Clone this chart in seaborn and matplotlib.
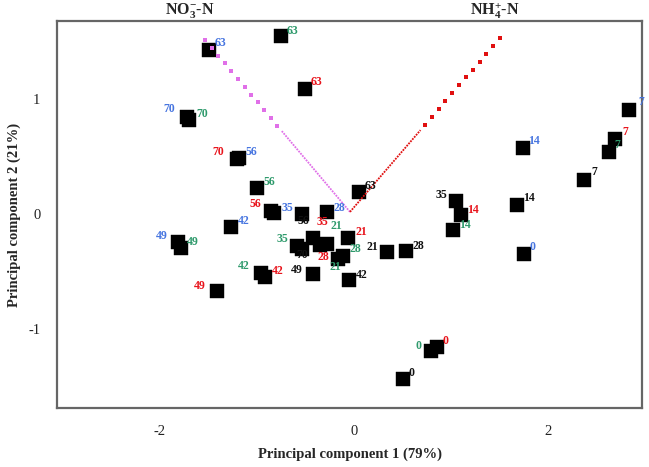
import numpy as np
import pandas as pd
import matplotlib
matplotlib.use("Agg")
import matplotlib.pyplot as plt
import seaborn as sns

# ---------------- data ----------------
black_days = ["0", "7", "14", "21", "28", "35", "42", "49", "56", "63", "70"]
black_x = [0.506, 2.369, 1.679, 0.342, 0.537, 1.051, -0.049, -0.420, -0.533, 0.053, -0.533]
black_y = [-1.436, 0.295, 0.077, -0.331, -0.323, 0.112, -0.575, -0.523, -0.001, 0.190, -0.305]

red_days = ["0", "7", "14", "21", "28", "35", "42", "49", "56", "63", "70"]
red_x = [0.856, 2.687, 1.103, -0.060, -0.348, -0.420, -0.914, -1.407, -0.852, -0.502, -1.202]
red_y = [-1.157, 0.651, -0.010, -0.210, -0.270, -0.210, -0.549, -0.670, 0.025, 1.086, 0.478]

green_days = ["0", "7", "14", "21", "21", "28", "35", "42", "49", "56", "63", "70"]
green_x = [0.795, 2.626, 1.020, -0.276, -0.163, -0.111, -0.584, -0.955, -1.778, -0.996, -0.749, -1.695]
green_y = [-1.192, 0.538, -0.140, -0.262, -0.391, -0.366, -0.279, -0.514, -0.297, 0.225, 1.547, 0.817]

blue_days = ["0", "7", "14", "28", "35", "42", "49", "56", "63", "70"]
blue_x = [1.751, 2.831, 1.741, -0.276, -0.821, -1.263, -1.808, -1.181, -1.490, -1.714]
blue_y = [-0.349, 0.903, 0.573, 0.017, 0.008, -0.114, -0.244, 0.486, 1.425, 0.843]

# loading vectors (origin and tip)
loading_names = ["NO3-N", "NH4-N"]
loading_x0 = [-0.039, -0.039]
loading_y0 = [0.017, 0.017]
loading_x1 = [-1.531, 1.504]
loading_y1 = [1.512, 1.530]

x_ticks = [-2, 0, 2]
y_ticks = [-1, 0, 1]
x_label = "Principal component 1 (79%)"
y_label = "Principal component 2 (21%)"

# ---------------- styling ----------------
# label offsets (pixels, dx right, dy up) from the square centre
black_off = [(9, 6), (10, 8), (12, 7), (-15, 5), (12, 5), (-15, 6), (13, 5), (-16, 4), (1, -7), (12, 6), (0, -6)]
red_off = [(9, 6), (10, 7), (12, 5), (13, 6), (3, -12), (9, 16), (13, 6), (-17, 5), (-16, 7), (12, 7), (-19, 7)]
green_off = [(-13, 5), (8, 7), (12, 5), (9, 18), (-3, -8), (12, 7), (-15, 7), (-17, 7), (12, 6), (12, 6), (12, 5), (13, 6)]
blue_off = [(9, 7), (12, 8), (11, 7), (12, 4), (13, 5), (13, 6), (-16, 6), (12, 6), (12, 7), (-18, 8)]

col_black = "#111111"
col_red = "#e8141c"
col_green = "#2f9a6c"
col_blue = "#4775e0"
load_cols = ["#e070e8", "#e01010"]

sns.set_style("white")
plt.rcParams["font.family"] = ["Liberation Serif", "DejaVu Serif"]
plt.rcParams["mathtext.fontset"] = "custom"
plt.rcParams["mathtext.rm"] = "Liberation Serif"
plt.rcParams["mathtext.bf"] = "Liberation Serif:bold"
plt.rcParams["mathtext.it"] = "Liberation Serif:italic"

fig = plt.figure(figsize=(6.49, 4.67), dpi=100)
ax = fig.add_axes([57 / 649, 1 - 408 / 467, 585 / 649, 387 / 467])

series = [
    (black_days, black_x, black_y, black_off, col_black),
    (red_days, red_x, red_y, red_off, col_red),
    (green_days, green_x, green_y, green_off, col_green),
    (blue_days, blue_x, blue_y, blue_off, col_blue),
]

frames = []
for days, xs, ys, offs, col in series:
    frames.append(pd.DataFrame({"x": xs, "y": ys, "day": days, "col": col}))
df = pd.concat(frames, ignore_index=True)

sns.scatterplot(data=df, x="x", y="y", marker="s", s=95, color="black",
                edgecolor="black", linewidth=0.3, ax=ax, zorder=3, legend=False)

# point labels
px2pt = 0.72
for days, xs, ys, offs, col in series:
    for d, x, y, (dx, dy) in zip(days, xs, ys, offs):
        ax.annotate(d, (x, y), xytext=(dx * px2pt, dy * px2pt), textcoords="offset points",
                    ha="center", va="center", fontsize=8.5, fontweight="bold",
                    color=col, zorder=5)

# loading vectors: thin dotted inner half, spaced square dots outer half
for x0, y0, x1, y1, c in zip(loading_x0, loading_y0, loading_x1, loading_y1, load_cols):
    t_in = np.linspace(0, 0.47, 2)
    ax.plot(x0 + (x1 - x0) * t_in, y0 + (y1 - y0) * t_in, color=c, lw=1.3,
            ls=(0, (1, 0.6)), zorder=4)
    t_out = np.linspace(0.5, 1.0, 12)
    ax.plot(x0 + (x1 - x0) * t_out, y0 + (y1 - y0) * t_out, color=c, ls="none",
            marker="s", markersize=3.2, markeredgewidth=0, zorder=4)

ax.set_xlim(-3.053, 2.965)
ax.set_ylim(-1.688, 1.677)
ax.set_xticks(x_ticks)
ax.set_yticks(y_ticks)
ax.set_xticklabels([str(v) for v in x_ticks])
ax.set_yticklabels([str(v) for v in y_ticks])
ax.tick_params(axis="both", direction="out", length=6, width=1.2, color="#777777",
               labelsize=10.5, pad=6, labelcolor="#222222")
for sp in ax.spines.values():
    sp.set_color("#666666")
    sp.set_linewidth(1.6)
    sp.set_visible(True)

ax.set_xlabel(x_label, fontsize=10.5, fontweight="bold", labelpad=7)
ax.set_ylabel(y_label, fontsize=10.5, fontweight="bold", labelpad=5)

fig.text(190 / 649, 1 - 11 / 467, r"NO$_\mathbf{3}^\mathbf{-}$-N", ha="center", va="center",
         fontsize=11.5, fontweight="bold")
fig.text(495 / 649, 1 - 11 / 467, r"NH$_\mathbf{4}^\mathbf{+}$-N", ha="center", va="center",
         fontsize=11.5, fontweight="bold")

fig.savefig("out.png", dpi=100)
